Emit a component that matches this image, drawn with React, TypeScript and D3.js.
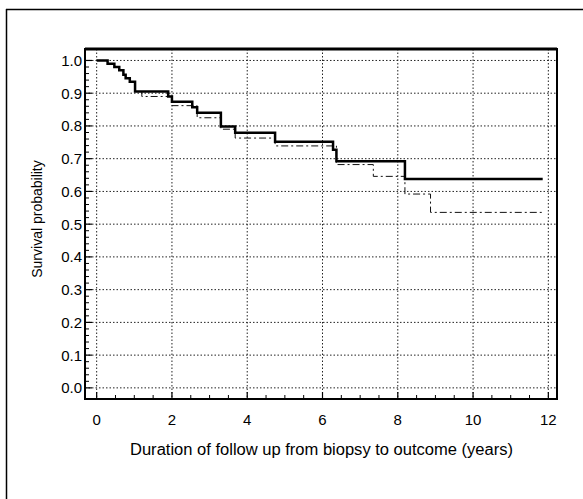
import React from "react";
import * as d3 from "d3";

const W = 583;
const H = 499;

const xTicks = [0, 2, 4, 6, 8, 10, 12];
const yTicks = [0, 0.1, 0.2, 0.3, 0.4, 0.5, 0.6, 0.7, 0.8, 0.9, 1.0];

// Solid curve: step times and survival after each step
const solidTimes = [0, 0.29, 0.47, 0.6, 0.71, 0.77, 0.88, 1.02, 1.9, 2.0, 2.54, 2.67, 3.3, 3.68, 4.74, 6.28, 6.37, 8.19, 11.85];
const solidSurv = [1.0, 0.99, 0.98, 0.97, 0.956, 0.946, 0.935, 0.905, 0.89, 0.874, 0.857, 0.84, 0.798, 0.779, 0.752, 0.727, 0.692, 0.638, 0.638];

// Dash-dot curve
const dashTimes = [0, 0.29, 0.47, 0.6, 0.71, 0.77, 0.88, 1.02, 1.2, 2.0, 2.67, 3.3, 3.68, 4.74, 6.37, 7.35, 8.19, 8.87, 11.9];
const dashSurv = [1.0, 0.99, 0.98, 0.97, 0.956, 0.946, 0.935, 0.905, 0.89, 0.862, 0.825, 0.79, 0.763, 0.739, 0.682, 0.646, 0.592, 0.536, 0.536];

const xLabel = "Duration of follow up from biopsy to outcome (years)";
const yLabel = "Survival probability";

export default function App() {
  const left = 85, right = 557, top = 49, bottom = 399;
  const x = d3.scaleLinear().domain([-0.31, 12.23]).range([left, right]);
  const y = d3.scaleLinear().domain([-0.034, 1.035]).range([bottom, top]);

  const line = d3
    .line<[number, number]>()
    .x((d) => x(d[0]))
    .y((d) => y(d[1]))
    .curve(d3.curveStepAfter);

  const solidPts: [number, number][] = solidTimes.map((t, i) => [t, solidSurv[i]]);
  const dashPts: [number, number][] = dashTimes.map((t, i) => [t, dashSurv[i]]);

  const xMinor = d3.range(0, 12.01, 0.5).filter((v) => Math.abs(v % 2) > 1e-6);
  const yMinor = d3.range(0, 1.0001, 0.02).filter((v) => Math.abs(Math.round(v * 10) - v * 10) > 1e-6);

  const font = "'Liberation Sans', Arial, sans-serif";

  return (
    <svg
      width={W}
      height={H}
      style={{ position: "absolute", left: 0, top: 0, background: "#fff" }}
      fontFamily={font}
    >
      {/* outer frame */}
      <line x1={6} y1={9.5} x2={W} y2={9.5} stroke="#000" strokeWidth={1.5} />
      <line x1={6.5} y1={9} x2={6.5} y2={H} stroke="#000" strokeWidth={1.5} />

      {/* grid */}
      {yTicks.map((v) => (
        <line key={"gy" + v} x1={left} x2={right} y1={y(v)} y2={y(v)} stroke="#222" strokeWidth={1} strokeDasharray="1.5,2" />
      ))}
      {xTicks.map((v) => (
        <line key={"gx" + v} x1={x(v)} x2={x(v)} y1={top} y2={bottom} stroke="#222" strokeWidth={1} strokeDasharray="1.5,2" />
      ))}

      {/* ticks */}
      {xTicks.map((v) => (
        <line key={"tx" + v} x1={x(v)} x2={x(v)} y1={bottom} y2={bottom - 7} stroke="#000" strokeWidth={1.2} />
      ))}
      {xMinor.map((v) => (
        <line key={"mx" + v} x1={x(v)} x2={x(v)} y1={bottom} y2={bottom - 4} stroke="#000" strokeWidth={1} />
      ))}
      {yTicks.map((v) => (
        <line key={"ty" + v} x1={left} x2={left + 7} y1={y(v)} y2={y(v)} stroke="#000" strokeWidth={1.2} />
      ))}
      {yMinor.map((v) => (
        <line key={"my" + v} x1={left} x2={left + 4} y1={y(v)} y2={y(v)} stroke="#000" strokeWidth={1} />
      ))}

      {/* curves */}
      <path d={line(dashPts) || ""} fill="none" stroke="#111" strokeWidth={1} strokeDasharray="7,3,2,3" />
      <path d={line(solidPts) || ""} fill="none" stroke="#000" strokeWidth={2.5} />

      {/* plot frame */}
      <rect x={left} y={top} width={right - left} height={bottom - top} fill="none" stroke="#000" strokeWidth={2} />
      <line x1={left} x2={right} y1={top} y2={top} stroke="#000" strokeWidth={3} />

      {/* tick labels */}
      {yTicks.map((v) => (
        <text key={"ly" + v} x={left - 3} y={y(v)} dy="0.36em" textAnchor="end" fontSize={15} fill="#000">
          {d3.format(".1f")(v)}
        </text>
      ))}
      {xTicks.map((v) => (
        <text key={"lx" + v} x={x(v)} y={425} textAnchor="middle" fontSize={15} fill="#000">
          {v}
        </text>
      ))}

      {/* axis titles */}
      <text x={(130 + 513) / 2} y={455} textAnchor="middle" fontSize={16} fill="#000" textLength={383} lengthAdjust="spacingAndGlyphs">
        {xLabel}
      </text>
      <text
        transform={`translate(42,${(top + bottom) / 2 - 5}) rotate(-90)`}
        textAnchor="middle"
        fontSize={14}
        fill="#000"
      >
        {yLabel}
      </text>
    </svg>
  );
}
